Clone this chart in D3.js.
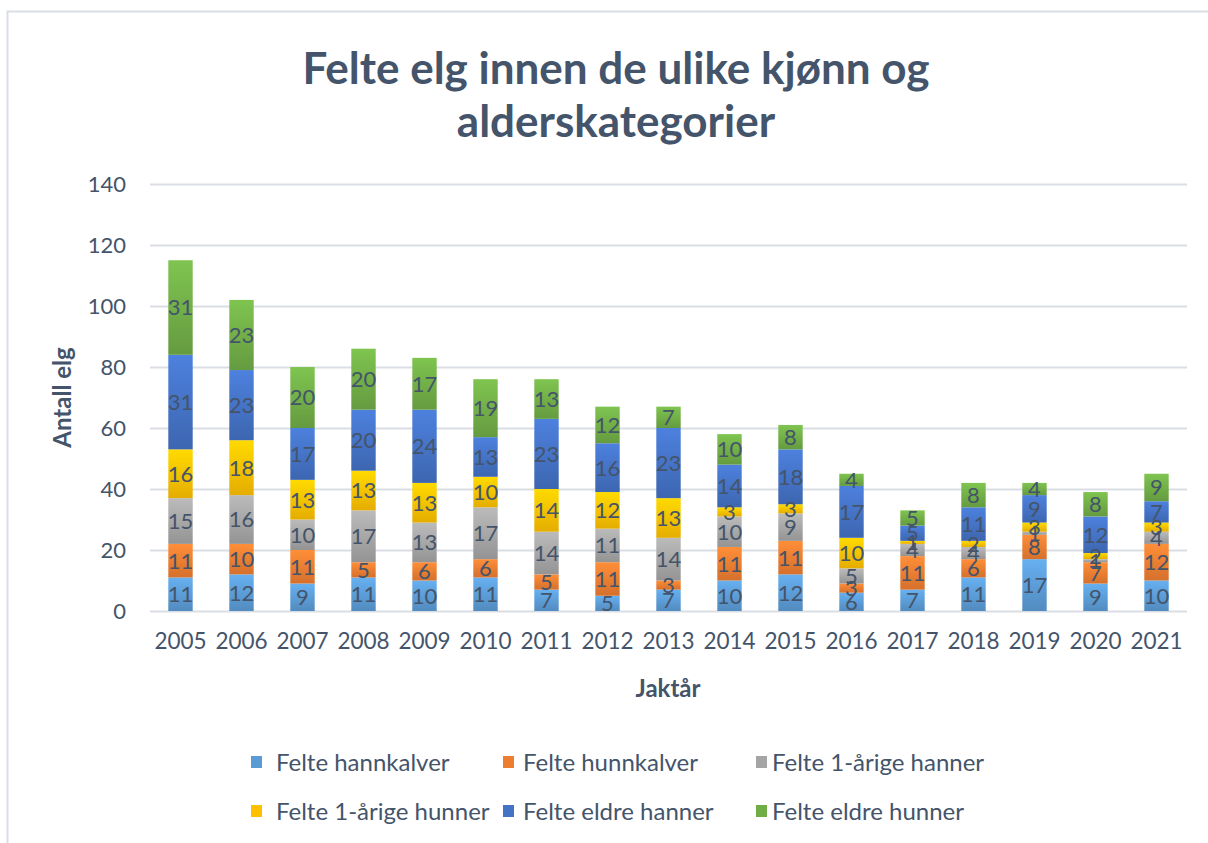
<!DOCTYPE html>
<html>
<head>
<meta charset="utf-8">
<script src="https://cdn.jsdelivr.net/npm/d3@7"></script>
<style>
    body { margin: 0; background: #fff; }
    svg { display: block; font-family: Lato, "Open Sans", sans-serif; }
</style>
</head>
<body>
<div id="chart"></div>
<script>
const years = ['2005', '2006', '2007', '2008', '2009', '2010', '2011', '2012', '2013',
    '2014', '2015', '2016', '2017', '2018', '2019', '2020', '2021'];
const seriesNames = ['Felte hannkalver', 'Felte hunnkalver', 'Felte 1-årige hanner',
    'Felte 1-årige hunner', 'Felte eldre hanner', 'Felte eldre hunner'];
const hannkalver = [11, 12, 9, 11, 10, 11, 7, 5, 7, 10, 12, 6, 7, 11, 17, 9, 10];
const hunnkalver = [11, 10, 11, 5, 6, 6, 5, 11, 3, 11, 11, 3, 11, 6, 8, 7, 12];
const aarigeHanner = [15, 16, 10, 17, 13, 17, 14, 11, 14, 10, 9, 5, 4, 4, 1, 1, 4];
const aarigeHunner = [16, 18, 13, 13, 13, 10, 14, 12, 13, 3, 3, 10, 1, 2, 3, 2, 3];
const eldreHanner = [31, 23, 17, 20, 24, 13, 23, 16, 23, 14, 18, 17, 5, 11, 9, 12, 7];
const eldreHunner = [31, 23, 20, 20, 17, 19, 13, 12, 7, 10, 8, 4, 5, 8, 4, 8, 9];
const yTicks = [0, 20, 40, 60, 80, 100, 120, 140];
const colors = ['#5B9BD5', '#ED7D31', '#A5A5A5', '#FFC000', '#4472C4', '#70AD47'];

const W = 1208, H = 843;
const plotLeft = 150, plotRight = 1187, plotTop = 184, plotBottom = 611;
const textColor = '#44546A';

const svg = d3.select('#chart')
    .append('svg')
    .attr('width', W)
    .attr('height', H);

// chart frame
svg.append('rect')
    .attr('x', 7.5).attr('y', 11.5)
    .attr('width', W + 20).attr('height', H + 20)
    .attr('fill', '#fff')
    .attr('stroke', '#D9DDE4')
    .attr('stroke-width', 2);

let defs = svg.append('defs');
colors.forEach((c, i) => {
    let g = defs.append('linearGradient')
        .attr('id', 'grad' + i)
        .attr('x1', 0).attr('y1', 0).attr('x2', 0).attr('y2', 1);
    g.append('stop').attr('offset', '0%').attr('stop-color', d3.color(c).brighter(0.35));
    g.append('stop').attr('offset', '100%').attr('stop-color', d3.color(c).darker(0.3));
});

const rows = years.map((yr, i) => ({
    year: yr,
    s0: hannkalver[i], s1: hunnkalver[i], s2: aarigeHanner[i],
    s3: aarigeHunner[i], s4: eldreHanner[i], s5: eldreHunner[i]
}));
const keys = ['s0', 's1', 's2', 's3', 's4', 's5'];
const stacked = d3.stack().keys(keys)(rows);

const x = d3.scaleBand()
    .domain(years)
    .range([plotLeft, plotRight])
    .paddingInner(0.6)
    .paddingOuter(0.3);

const y = d3.scaleLinear()
    .domain([0, 140])
    .range([plotBottom, plotTop]);

// title
svg.append('text')
    .attr('text-anchor', 'middle')
    .attr('fill', textColor)
    .attr('font-weight', 'bold')
    .attr('font-size', 44)
    .selectAll('tspan')
    .data(['Felte elg innen de ulike kjønn og', 'alderskategorier'])
    .enter()
    .append('tspan')
    .attr('x', 616)
    .attr('y', (d, i) => 84 + i * 53)
    .text(d => d);

// grid
let yAxis = svg.append('g')
    .attr('transform', 'translate(' + plotLeft + ',0)')
    .call(d3.axisLeft(y).tickValues(yTicks).tickSize(-(plotRight - plotLeft)).tickPadding(24));
yAxis.select('.domain').remove();
yAxis.selectAll('line')
    .attr('stroke', '#D9DDE4')
    .attr('stroke-width', 2);
yAxis.selectAll('text')
    .attr('fill', textColor)
    .attr('font-size', 22)
    .style('font-family', 'Lato, sans-serif');

// bars
let groups = svg.append('g')
    .selectAll('g')
    .data(stacked)
    .enter()
    .append('g')
    .attr('fill', (d, i) => 'url(#grad' + i + ')');

groups.selectAll('rect')
    .data(d => d)
    .enter()
    .append('rect')
    .attr('x', d => x(d.data.year))
    .attr('width', x.bandwidth())
    .attr('y', d => y(d[1]))
    .attr('height', d => y(d[0]) - y(d[1]));

// data labels
let labels = svg.append('g')
    .attr('fill', textColor)
    .attr('font-size', 22)
    .attr('text-anchor', 'middle');
stacked.forEach(s => {
    labels.selectAll(null)
        .data(s)
        .enter()
        .append('text')
        .attr('x', d => x(d.data.year) + x.bandwidth() / 2)
        .attr('y', d => y((d[0] + d[1]) / 2))
        .attr('dy', '0.36em')
        .text(d => d[1] - d[0]);
});

// x axis
let xAxis = svg.append('g')
    .attr('transform', 'translate(0,' + plotBottom + ')')
    .call(d3.axisBottom(x).tickSize(0).tickPadding(22));
xAxis.select('.domain').remove();
xAxis.selectAll('text')
    .attr('fill', textColor)
    .attr('font-size', 22.5)
    .style('font-family', 'Lato, sans-serif');

// axis titles
svg.append('text')
    .attr('x', 668)
    .attr('y', 697)
    .attr('text-anchor', 'middle')
    .attr('fill', textColor)
    .attr('font-weight', 'bold')
    .attr('font-size', 24)
    .text('Jaktår');

svg.append('text')
    .attr('transform', 'translate(71,' + ((plotTop + plotBottom) / 2) + ') rotate(-90)')
    .attr('text-anchor', 'middle')
    .attr('fill', textColor)
    .attr('font-weight', 'bold')
    .attr('font-size', 24)
    .text('Antall elg');

// legend
const legendSq = [[251, 762], [503, 762], [756, 762], [251, 811], [503, 811], [756, 811]];
const legendTx = [276, 523, 772, 276, 523, 772];
let legend = svg.append('g')
    .selectAll('g')
    .data(seriesNames)
    .enter()
    .append('g');
legend.append('rect')
    .attr('x', (d, i) => legendSq[i][0])
    .attr('y', (d, i) => legendSq[i][1] - 6)
    .attr('width', 11).attr('height', 12)
    .attr('fill', (d, i) => colors[i]);
legend.append('text')
    .attr('x', (d, i) => legendTx[i])
    .attr('y', (d, i) => legendSq[i][1])
    .attr('dy', '0.36em')
    .attr('fill', textColor)
    .attr('font-size', 24)
    .text(d => d);
</script>
</body>
</html>
